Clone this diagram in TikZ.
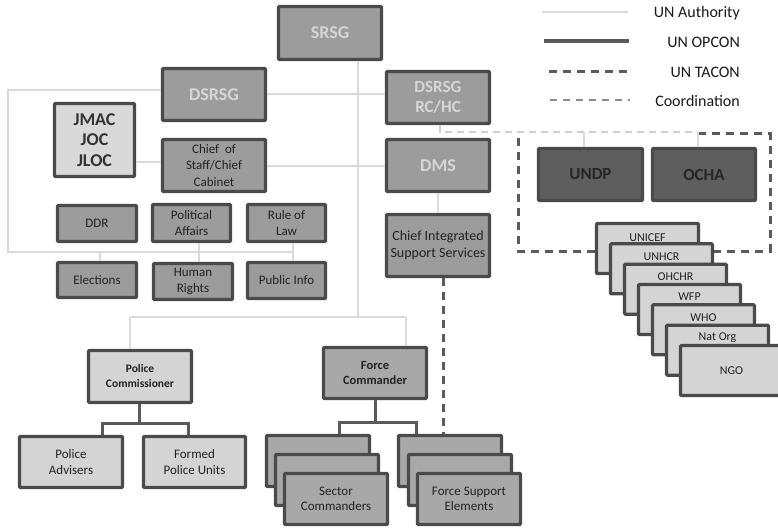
\documentclass[tikz,border=0pt]{standalone}
\usepackage{fontspec}
\setmainfont{Carlito}
\definecolor{bordc}{HTML}{4A4A4A}
\definecolor{midc}{HTML}{9C9C9C}
\definecolor{fcc}{HTML}{A8A8A8}
\definecolor{lightc}{HTML}{D4D4D4}
\definecolor{jmacc}{HTML}{D9D9D9}
\definecolor{darkc}{HTML}{5E5E5E}
\definecolor{toptxt}{HTML}{D6D6D6}
\definecolor{txtc}{HTML}{222222}
\definecolor{authc}{HTML}{D9D9D9}
\definecolor{opc}{HTML}{5A5A5A}
\definecolor{coordc}{HTML}{8C8C8C}
\definecolor{coordlc}{HTML}{CFCFCF}
\tikzset{
  box/.style={draw=bordc, line width=3.2pt, inner sep=1pt, align=center, text=txtc,
    font=\fontsize{13}{15.5}\selectfont, rounded corners=1pt, fill=midc},
  topbox/.style={box, text=toptxt, font=\bfseries\fontsize{18}{21}\selectfont},
  lbox/.style={box, fill=lightc},
  fcbox/.style={box, fill=fcc},
  dbox/.style={box, fill=darkc, text=black!85, font=\bfseries\fontsize{17}{20}\selectfont},
  agbox/.style={box, fill=lightc, minimum width=102pt, minimum height=50pt},
  aglab/.style={font=\fontsize{12}{14}\selectfont, text=txtc, inner sep=0pt},
  auth/.style={draw=authc, line width=2.8pt},
  opcon/.style={draw=opc, line width=3pt},
  tacon/.style={draw=opc, line width=3pt, dash pattern=on 8pt off 6pt},
  coord/.style={draw=coordc, line width=2.8pt, dash pattern=on 7pt off 6pt},
  coordl/.style={draw=coordlc, line width=2.6pt, dash pattern=on 7pt off 5pt},
  legtxt/.style={font=\fontsize{16}{19}\selectfont, text=black!90, anchor=east, inner sep=0pt},
}
\begin{document}
\begin{tikzpicture}[x=1pt,y=-1pt]
\useasboundingbox (0,0) rectangle (778,529);

% ---- legend ----
\node[legtxt] (lA) at (740,13) {UN Authority};
\node[legtxt] (lO) at (740,42) {UN OPCON};
\node[legtxt] (lT) at (740,72) {UN TACON};
\node[legtxt] (lC) at (740,101) {Coordination};
\coordinate (la1) at (542,12);  \coordinate (la2) at (628,12);
\coordinate (lo1) at (544,41);  \coordinate (lo2) at (629,41);
\coordinate (lt1) at (549,72);  \coordinate (lt2) at (629,72);
\coordinate (lc1) at (550,100); \coordinate (lc2) at (630,100);
\draw[auth] (la1) -- (la2);
\draw[opcon,line width=3.5pt] (lo1) -- (lo2);
\draw[tacon] (lt1) -- (lt2);
\draw[coord] (lc1) -- (lc2);

% ---- coordination frame (drawn first) ----
\coordinate (fr1) at (698,134);
\coordinate (fr2) at (770,134);
\coordinate (fr3) at (770,251);
\coordinate (fr4) at (518,251);
\coordinate (fr5) at (518,135);
\draw[tacon] (fr1) -- (fr2) -- (fr3) -- (fr4) -- (fr5);

% ---- boxes ----
\node[topbox, minimum width=103pt, minimum height=53pt] (SRSG) at (330,33) {SRSG};
\node[topbox, minimum width=103pt, minimum height=52pt] (DSRSG) at (214,94.5) {DSRSG};
\node[topbox, minimum width=103pt, minimum height=52pt, font=\bfseries\fontsize{17}{20}\selectfont] (RCHC) at (438,97.5) {DSRSG\\RC/HC};
\node[box, fill=jmacc, minimum width=80pt, minimum height=73pt, font=\bfseries\fontsize{18}{20.5}\selectfont, text=black!80] (JMAC) at (94.5,140) {JMAC\\JOC\\JLOC};
\node[box, minimum width=103pt, minimum height=52pt, font=\fontsize{13}{16.5}\selectfont] (COS) at (214,165.5) {Chief~ of\\Staff/Chief\\Cabinet};
\node[topbox, minimum width=103pt, minimum height=52pt] (DMS) at (438,165.5) {DMS};

\node[box, minimum width=79pt, minimum height=36pt] (DDR) at (97,223.5) {DDR};
\node[box, minimum width=78pt, minimum height=37pt] (PA) at (191.5,223) {Political\\Affairs};
\node[box, minimum width=78pt, minimum height=37pt] (RoL) at (286.5,223) {Rule of\\Law};
\node[box, minimum width=79pt, minimum height=35pt] (EL) at (97,280) {Elections};
\node[box, minimum width=79pt, minimum height=36pt] (HR) at (193,281.5) {Human\\Rights};
\node[box, minimum width=78pt, minimum height=36pt] (PI) at (286.5,280.5) {Public Info};
\node[box, minimum width=103pt, minimum height=62pt, font=\fontsize{14}{17}\selectfont] (CISS) at (438,245.5) {Chief Integrated\\Support Services};

\node[lbox, minimum width=103pt, minimum height=52pt, font=\bfseries\fontsize{11.5}{15}\selectfont] (PC) at (140,376.5) {Police\\Commissioner};
\node[fcbox, minimum width=103pt, minimum height=51pt, font=\bfseries\fontsize{12.5}{15}\selectfont] (FC) at (375,373) {Force\\Commander};
\node[lbox, minimum width=103pt, minimum height=51pt] (PAdv) at (71,462) {Police\\Advisers};
\node[lbox, minimum width=102pt, minimum height=51pt] (FPU) at (194.5,462) {Formed\\Police Units};

\node[fcbox, minimum width=103pt, minimum height=51pt] (SC1) at (318,461) {};
\node[fcbox, minimum width=103pt, minimum height=51pt] (SC2) at (327,480) {};
\node[fcbox, minimum width=103pt, minimum height=51pt] (SC3) at (336,499) {Sector\\Commanders};
\node[fcbox, minimum width=103pt, minimum height=51pt] (FS1) at (450,461) {};
\node[fcbox, minimum width=103pt, minimum height=51pt] (FS2) at (460,480) {};
\node[fcbox, minimum width=103pt, minimum height=51pt] (FS3) at (469,499) {Force Support\\Elements};

\node[dbox, minimum width=104pt, minimum height=52pt] (UNDP) at (590.5,174.5) {UNDP};
\node[dbox, minimum width=103pt, minimum height=52pt] (OCHA) at (704,174.5) {OCHA};

\node[agbox, label={[aglab, anchor=north, yshift=-12pt]north:UNICEF}] (A1) at (647.5,248.5) {};
\node[agbox, label={[aglab, anchor=north, yshift=-10pt]north:UNHCR}] (A2) at (661.5,268.8) {};
\node[agbox, label={[aglab, anchor=north, yshift=-10pt]north:OHCHR}] (A3) at (675.5,289.2) {};
\node[agbox, label={[aglab, anchor=north, yshift=-10pt]north:WFP}] (A4) at (689.5,309.5) {};
\node[agbox, label={[aglab, anchor=north, yshift=-10pt]north:WHO}] (A5) at (703.5,329.8) {};
\node[agbox, label={[aglab, anchor=north, yshift=-9pt]north:Nat Org}] (A6) at (717.5,350.2) {};
\node[agbox, font=\fontsize{12}{14}\selectfont] (A7) at (731.5,370.5) {NGO};

% ---- authority connectors ----
\coordinate (spine) at (358,317);
\coordinate (pcj) at (130,317);
\coordinate (fcj) at (406,317);
\draw[auth] (SRSG.south -| spine) -- (spine);
\draw[auth] (pcj) -- (fcj);
\draw[auth] (pcj) -- (pcj |- PC.north);
\draw[auth] (fcj) -- (fcj |- FC.north);

\coordinate (lc) at (8,90);
\coordinate (lb) at (8,252);
\coordinate (lr) at (293,252);
\draw[auth] (DSRSG.west |- lc) -- (lc) -- (lb) -- (lr);
\coordinate (elj) at (100,252);
\draw[auth] (elj) -- (elj |- EL.north);
\coordinate (hrj) at (199,252);
\draw[auth] (hrj |- PA.south) -- (hrj |- HR.north);
\draw[auth] (lr |- RoL.south) -- (lr |- PI.north);

\coordinate (dy) at (0,94);
\draw[auth] (DSRSG.east |- dy) -- (RCHC.west |- dy);
\coordinate (jy) at (0,162);
\draw[auth] (JMAC.east |- jy) -- (COS.west |- jy);
\coordinate (cy) at (0,166);
\draw[auth] (COS.east |- cy) -- (DMS.west |- cy);
\draw[auth] (DMS.south) -- (CISS.north);

% ---- TACON from CISS ----
\coordinate (tx) at (443,0);
\draw[tacon] (CISS.south -| tx) -- (FS1.north -| tx);

% ---- coordination from RC/HC ----
\coordinate (ca) at (440,132);
\coordinate (cb) at (698,132);
\draw[coordl] (RCHC.south -| ca) -- (ca) -- (cb);
\coordinate (t1) at (584,132);
\draw[auth, line width=2.4pt] (t1) -- (t1 |- UNDP.north);
\draw[auth, line width=2.4pt] (cb) -- (cb |- OCHA.north);

% ---- OPCON connectors ----
\coordinate (pj) at (139,423);
\coordinate (pl) at (102,423);
\coordinate (pr) at (188,423);
\draw[opcon] (PC.south -| pj) -- (pj);
\draw[opcon] (pl |- PAdv.north) -- (pl) -- (pr) -- (pr |- FPU.north);
\coordinate (fj) at (375,422);
\coordinate (fl) at (339,422);
\coordinate (fr) at (416,422);
\draw[opcon] (FC.south) -- (fj);
\draw[opcon] (fl |- SC1.north) -- (fl) -- (fr) -- (fr |- FS1.north);
\end{tikzpicture}
\end{document}
